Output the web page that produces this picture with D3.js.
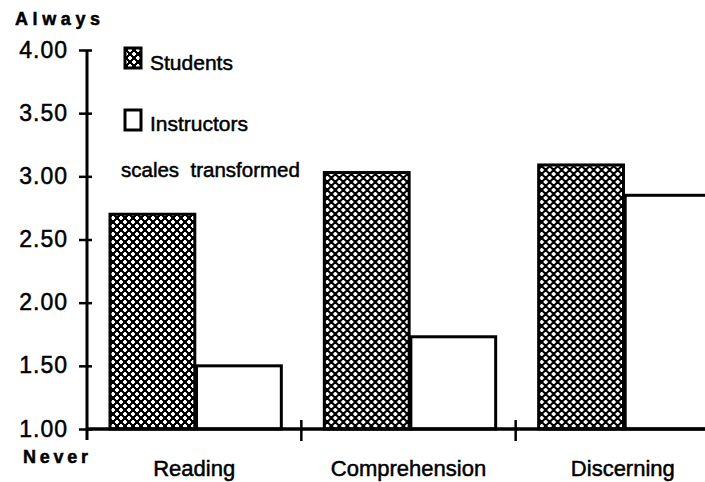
<!DOCTYPE html>
<html>
<head>
<meta charset="utf-8">
<script src="https://cdn.jsdelivr.net/npm/d3@7"></script>
<style>
  html, body { margin: 0; padding: 0; background: #fff; }
  svg { display: block; }
  text { font-family: "Liberation Sans", Arial, Helvetica, sans-serif; fill: #000; stroke: #000; stroke-width: 0.5px; }
</style>
</head>
<body>
<svg id="chart" width="705" height="482"></svg>
<script>
// ---- data ----
const categories = ["Reading", "Comprehension", "Discerning"];
const seriesNames = ["Students", "Instructors"];
const students = [2.70, 3.03, 3.09];
const instructors = [1.50, 1.73, 2.85];
const yTicks = [1.00, 1.50, 2.00, 2.50, 3.00, 3.50, 4.00];
const yTopLabel = "Always";
const yBottomLabel = "Never";
const noteText = "scales  transformed";

const svg = d3.select("#chart");

// pattern for students (black with white plus-shaped dots)
const defs = svg.append("defs");
const pat = defs.append("pattern")
  .attr("id", "hatch").attr("patternUnits", "userSpaceOnUse")
  .attr("width", 8).attr("height", 8);
pat.append("rect").attr("width", 8).attr("height", 8).attr("fill", "#000");
[[2, 2], [6, 6]].forEach(([cx, cy]) => {
  pat.append("rect").attr("x", cx - 2).attr("y", cy - 1).attr("width", 4).attr("height", 2).attr("fill", "#fff");
  pat.append("rect").attr("x", cx - 1).attr("y", cy - 2).attr("width", 2).attr("height", 4).attr("fill", "#fff");
});

const axisX = 87;
const y = d3.scaleLinear().domain([1, 4]).range([429, 50]);
const x0 = d3.scaleBand().domain(categories).range([axisX, 730]).paddingInner(0).paddingOuter(0);
const x1 = d3.scaleBand().domain(seriesNames).range([23, x0.bandwidth() - 20]).paddingInner(0.02);

const data = categories.map((c, i) => ({ cat: c, values: [
  { s: "Students", v: students[i] },
  { s: "Instructors", v: instructors[i] }
]}));

// bars
const g = svg.append("g");
const groups = g.selectAll("g.cat").data(data).join("g")
  .attr("transform", d => `translate(${x0(d.cat)},0)`);
groups.selectAll("rect").data(d => d.values).join("rect")
  .attr("x", d => x1(d.s))
  .attr("y", d => y(d.v))
  .attr("width", x1.bandwidth())
  .attr("height", d => y(1) - y(d.v))
  .attr("fill", d => d.s === "Students" ? "url(#hatch)" : "#fff")
  .attr("stroke", "#000")
  .attr("stroke-width", 3);

// y axis
const yAxis = d3.axisLeft(y).tickValues(yTicks).tickFormat(d3.format(".2f")).tickSize(7).tickPadding(0);
const ya = svg.append("g").attr("transform", `translate(${axisX},0)`).call(yAxis)
  .attr("font-size", null).attr("font-family", null);
ya.select(".domain").remove();
ya.append("line").attr("x1", 0).attr("x2", 0).attr("y1", y(4)).attr("y2", y(1) + 11)
  .attr("stroke", "#000").attr("stroke-width", 3);
ya.selectAll(".tick line").attr("x1", -8).attr("x2", 5).attr("stroke", "#000").attr("stroke-width", 2.5);
ya.selectAll(".tick text")
  .attr("x", -19).attr("dy", null).attr("y", 7)
  .attr("font-size", 23).style("font-size", "23px").style("letter-spacing", "1px")
  .attr("text-anchor", "end").attr("fill", "#000");

// x axis
const xa = svg.append("g");
xa.append("line").attr("x1", axisX).attr("x2", 705).attr("y1", y(1)).attr("y2", y(1))
  .attr("stroke", "#000").attr("stroke-width", 3.5);
xa.selectAll("line.xt").data(categories.slice(1)).join("line").attr("class", "xt")
  .attr("x1", d => x0(d)).attr("x2", d => x0(d))
  .attr("y1", y(1) - 9).attr("y2", y(1) + 12)
  .attr("stroke", "#000").attr("stroke-width", 2.5);
xa.selectAll("text.cat").data(categories).join("text").attr("class", "cat")
  .attr("x", d => x0(d) + x0.bandwidth() / 2)
  .attr("y", 476)
  .attr("text-anchor", "middle")
  .style("font-size", "22px")
  .text(d => d);

// axis end labels
svg.append("text").attr("x", 15).attr("y", 25).style("font-size", "18px").style("font-weight", "bold")
  .attr("textLength", 85).attr("lengthAdjust", "spacing").text(yTopLabel);
svg.append("text").attr("x", 23).attr("y", 463).style("font-size", "18px").style("font-weight", "bold")
  .attr("textLength", 65).attr("lengthAdjust", "spacing").text(yBottomLabel);

// legend
const legend = svg.append("g");
const legendItems = [
  { name: seriesNames[0], fill: "url(#hatch)", y: 48, h: 20, ty: 70 },
  { name: seriesNames[1], fill: "#fff", y: 110, h: 20, ty: 131 }
];
legend.selectAll("rect").data(legendItems).join("rect")
  .attr("x", 125).attr("y", d => d.y).attr("width", 16).attr("height", d => d.h)
  .attr("fill", d => d.fill).attr("stroke", "#000").attr("stroke-width", 3);
legend.selectAll("text").data(legendItems).join("text")
  .attr("x", 150).attr("y", d => d.ty).style("font-size", "21px").text(d => d.name);
svg.append("text").attr("x", 121).attr("y", 177).style("font-size", "20.5px")
  .style("white-space", "pre").attr("xml:space", "preserve").text(noteText);
</script>
</body>
</html>
